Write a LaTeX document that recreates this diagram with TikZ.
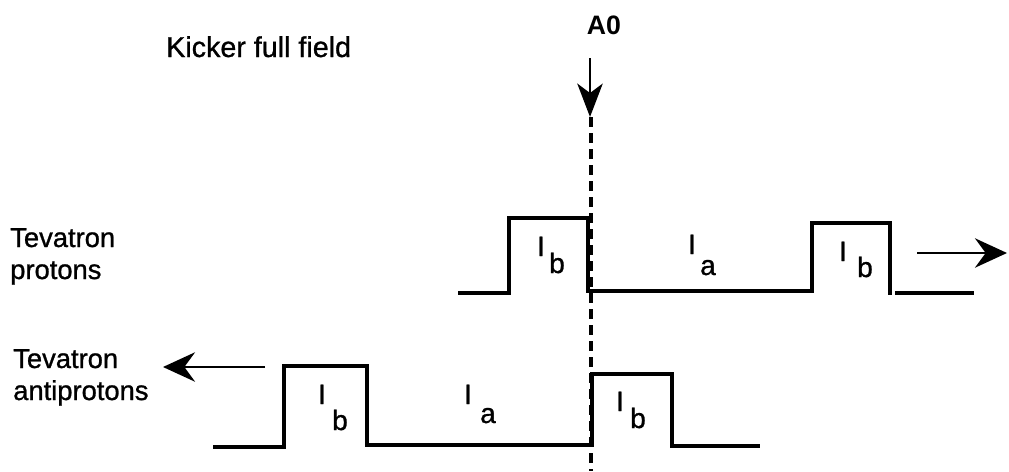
\documentclass[tikz,border=0pt]{standalone}
\usepackage{fontspec}
\setmainfont{Liberation Sans}[FakeBold=1]
\newfontfamily\boldA{Liberation Sans Bold}
\usetikzlibrary{arrows.meta}
\begin{document}
\begin{tikzpicture}[x=0.75pt,y=-0.75pt,
  wave/.style={line width=2.5pt,line join=miter},
  dash line/.style={line width=2.4pt,dash pattern=on 7.5pt off 4.5pt},
  bigarrow/.style={line width=2.2pt,-{Stealth[length=24pt,width=22pt,inset=8pt]}},
  lbl/.style={font=\fontsize{21pt}{24pt}\selectfont,inner sep=0pt,anchor=base},
  side/.style={font=\fontsize{20.5pt}{24pt}\selectfont,inner sep=0pt,anchor=base west,align=left},
]
\useasboundingbox (0,0) rectangle (1009,471);

% titles
\node[font=\fontsize{21.5pt}{25pt}\selectfont,inner sep=0pt,anchor=base west] (title) at (166,57) {Kicker full field};
\node[font=\boldA\fontsize{20pt}{22pt}\selectfont,inner sep=0pt,anchor=base] (A0) at (604,34) {A0};
\node[side] (tp) at (10,279) {Tevatron\\protons};
\node[side] (ta) at (13,400) {Tevatron\\antiprotons};

% A0 arrow and dashed line
\coordinate (a0s) at (590,58);
\coordinate (a0e) at (590,117);
\coordinate (d0) at (591,117);
\coordinate (d1) at (591,471);
\draw[dash line] (d0) -- (d1);
\draw[line width=2.2pt,-{Stealth[length=25pt,width=19pt,inset=7pt]}] (a0s) -- (a0e);

% top waveform (protons)
\draw[wave] (458,293) -- (509,293) -- (509,218) -- (588,218) -- (588,291) -- (812,291)
  -- (812,223) -- (890,223) -- (890,295);
\draw[wave] (895,293) -- (974,293);

% bottom waveform (antiprotons)
\draw[wave] (213,447) -- (284,447) -- (284,366) -- (367,366) -- (367,445) -- (592,445)
  -- (592,374) -- (672,374) -- (672,446) -- (760,446);

% direction arrows
\coordinate (ra0) at (917,253);
\coordinate (ra1) at (1007,253);
\draw[bigarrow] (ra0) -- (ra1);
\coordinate (la0) at (265,367);
\coordinate (la1) at (163,367);
\draw[bigarrow] (la0) -- (la1);

% labels
\node[lbl] (tb1I) at (541,256) {I};
\node[lbl] (tb1s) at (557,273) {b};
\node[lbl] (taI) at (692,254) {I};
\node[lbl] (tas) at (708,275) {a};
\node[lbl] (tb2I) at (843,261) {I};
\node[lbl] (tb2s) at (865,277) {b};
\node[lbl] (bb1I) at (322,404) {I};
\node[lbl] (bb1s) at (340,430) {b};
\node[lbl] (baI) at (468,404) {I};
\node[lbl] (bas) at (488,423) {a};
\node[lbl] (bb2I) at (620,411) {I};
\node[lbl] (bb2s) at (638,428) {b};
\end{tikzpicture}
\end{document}
